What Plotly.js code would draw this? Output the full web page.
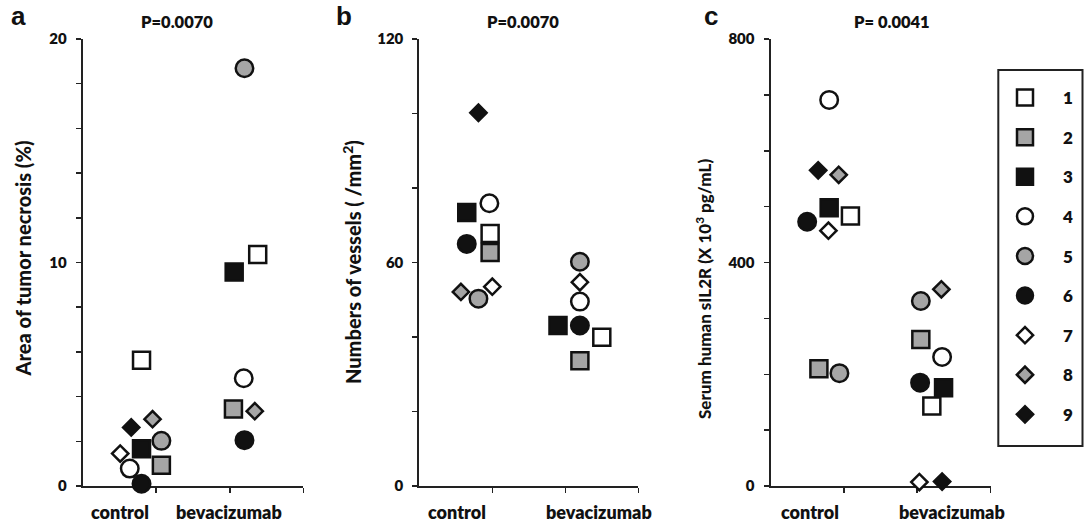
<!DOCTYPE html>
<html><head><meta charset="utf-8">
<script src="https://cdn.plot.ly/plotly-3.0.1.min.js"></script>
<style>html,body{margin:0;padding:0;background:#fff}#chart{width:1084px;height:523px}</style>
</head><body><div id="chart"></div><script>
// ---- data ----
const patients = ['1','2','3','4','5','6','7','8','9'];
const groups = ['control','bevacizumab'];
// panel a: area of tumor necrosis (%)
const necrosisControl  = [5.63, 0.93, 1.67, 0.78, 2.02, 0.10, 1.45, 2.99, 2.62];
const necrosisBev      = [10.36, 3.44, 9.58, 4.82, 18.69, 2.05, null, 3.35, null];
const necrosisControlX = [0.80, 1.07, 0.80, 0.64, 1.07, 0.80, 0.51, 0.95, 0.66];
const necrosisBevX     = [2.38, 2.05, 2.06, 2.19, 2.20, 2.20, null, 2.34, null];
// panel b: numbers of vessels (/mm2)
const vesselsControl  = [67.8, 62.7, 73.4, 75.9, 50.3, 65.0, 53.5, 52.1, 100.2];
const vesselsBev      = [39.9, 33.6, 43.1, 49.5, 60.2, 43.1, 54.7, null, null];
const vesselsControlX = [0.97, 0.97, 0.65, 0.96, 0.81, 0.65, 1.00, 0.57, 0.81];
const vesselsBevX     = [2.50, 2.20, 1.90, 2.20, 2.20, 2.20, 2.20, null, null];
// panel c: serum human sIL2R (x10^3 pg/mL)
const sil2rControl  = [483, 210, 498, 691, 202, 473, 457, 557, 565];
const sil2rBev      = [143, 262, 176, 231, 331, 185, 7, 352, 8];
const sil2rControlX = [1.09, 0.66, 0.80, 0.80, 0.94, 0.50, 0.79, 0.93, 0.65];
const sil2rBevX     = [2.20, 2.05, 2.36, 2.34, 2.05, 2.04, 2.03, 2.33, 2.34];
const pValues = ['P=0.0070', 'P=0.0070', 'P= 0.0041'];
const panelLetters = ['a', 'b', 'c'];
const yTitles = ['Area of tumor necrosis (%)', 'Numbers of vessels ( /mm<sup>2</sup>)',
                 'Serum human sIL2R (X 10<sup>3</sup> pg/mL)'];

// ---- styles ----
const GRAY = '#a5a5a5', BLACK = '#111111', WHITE = '#ffffff';
const symbols = ['square','square','square','circle','circle','circle','diamond','diamond','diamond'];
const fills = [WHITE, GRAY, BLACK, WHITE, GRAY, BLACK, WHITE, GRAY, BLACK];
const sizes = {square: 17, circle: 17.5, diamond: 12.5};

const W = 1084, H = 523;
const px = v => v / W, py = v => 1 - v / H;

const panels = [
  {c: necrosisControl, b: necrosisBev, cx: necrosisControlX, bx: necrosisBevX},
  {c: vesselsControl, b: vesselsBev, cx: vesselsControlX, bx: vesselsBevX},
  {c: sil2rControl, b: sil2rBev, cx: sil2rControlX, bx: sil2rBevX}
];

const traces = [];
panels.forEach((p, k) => {
  patients.forEach((name, i) => {
    traces.push({
      type: 'scatter', mode: 'markers',
      x: [p.cx[i], p.bx[i]], y: [p.c[i], p.b[i]],
      xaxis: k === 0 ? 'x' : 'x' + (k + 1),
      yaxis: k === 0 ? 'y' : 'y' + (k + 1),
      name: name, legendgroup: name, showlegend: k === 0,
      cliponaxis: false, hoverinfo: 'skip',
      marker: {symbol: symbols[i], size: sizes[symbols[i]], color: fills[i],
               line: {color: BLACK, width: 2.5}}
    });
  });
});

const LINE = '#222222';
const FAM = 'Lato, sans-serif';
const tickFont = {family: FAM, size: 15, weight: 800, color: '#111'};
function xAxis(d0, d1, anchor) {
  return {domain: [px(d0), px(d1)], anchor: anchor, range: [0, 3], fixedrange: true,
    tickvals: [1, 2, 3], showticklabels: false, ticks: 'outside', ticklen: 5,
    tickwidth: 1.5, tickcolor: LINE, showline: true, linecolor: LINE, linewidth: 2,
    showgrid: false, zeroline: false, layer: 'below traces'};
}
function yAxis(anchor, max, dtick, minor) {
  return {domain: [py(486), py(39)], anchor: anchor, range: [0, max], fixedrange: true,
    tick0: 0, dtick: dtick, ticks: 'outside', ticklen: 5, tickwidth: 1.5, tickcolor: LINE,
    minor: {dtick: minor, ticks: 'outside', ticklen: 5, tickwidth: 1.5, tickcolor: LINE},
    showline: true, linecolor: LINE, linewidth: 2, showgrid: false, zeroline: false,
    tickfont: tickFont, ticklabelstandoff: 6, layer: 'below traces'};
}

const labFont = {family: FAM, size: 18, weight: 800, color: '#111'};
const pFont = {family: FAM, size: 16.5, weight: 800, color: '#111'};
const letterFont = {family: 'Liberation Sans, Arial, sans-serif', size: 26, weight: 700, color: '#111'};

const annotations = [];
// panel letters and P values
[[18.5, 177], [344, 523], [711, 892]].forEach((pos, k) => {
  annotations.push({xref: 'paper', yref: 'paper', x: px(pos[0]), y: py(16), text: panelLetters[k],
    showarrow: false, font: letterFont, xanchor: 'center', yanchor: 'middle'});
  annotations.push({xref: 'paper', yref: 'paper', x: px(pos[1]), y: py(22), text: pValues[k],
    showarrow: false, font: pFont, xanchor: 'center', yanchor: 'middle'});
});
// category labels
[[0.51, 1.99], [0.51, 2.46], [0.54, 2.47]].forEach((pos, k) => {
  const xr = k === 0 ? 'x' : 'x' + (k + 1);
  groups.forEach((g, j) => annotations.push({xref: xr, yref: 'paper', x: pos[j], y: py(512),
    text: g, showarrow: false, font: labFont, xanchor: 'center', yanchor: 'middle'}));
});
// y titles
[[22.5, 259, 20], [352, 262, 20], [703, 289, 17]].forEach((pos, k) => {
  annotations.push({xref: 'paper', yref: 'paper', x: px(pos[0]), y: py(pos[1]),
    text: yTitles[k], textangle: -90, showarrow: false,
    font: {family: FAM, size: pos[2], weight: 900, color: '#111'},
    xanchor: 'center', yanchor: 'middle'});
});

const layout = {
  width: W, height: H, margin: {l: 0, r: 0, t: 0, b: 0},
  paper_bgcolor: '#fff', plot_bgcolor: 'rgba(0,0,0,0)',
  xaxis: xAxis(82.7, 303.3, 'y'), yaxis: yAxis('x', 20, 10, 2),
  xaxis2: xAxis(419.3, 638.3, 'y2'), yaxis2: yAxis('x2', 120, 60, 20),
  xaxis3: xAxis(770.5, 990.5, 'y3'), yaxis3: yAxis('x3', 800, 400, 100),
  showlegend: true,
  legend: {x: px(987), xanchor: 'left', y: py(80), yanchor: 'top', itemwidth: 66,
    traceorder: 'grouped', tracegroupgap: 14.5, bgcolor: 'rgba(0,0,0,0)', borderwidth: 0,
    font: {family: FAM, size: 17, weight: 800, color: '#111'}, itemclick: false, itemdoubleclick: false},
  shapes: [{type: 'rect', xref: 'paper', yref: 'paper', x0: px(998.3), x1: px(1082.5),
    y0: py(446), y1: py(70), line: {color: LINE, width: 2}}],
  annotations: annotations
};

Plotly.newPlot('chart', traces, layout, {displayModeBar: false, staticPlot: true});
</script></body></html>
